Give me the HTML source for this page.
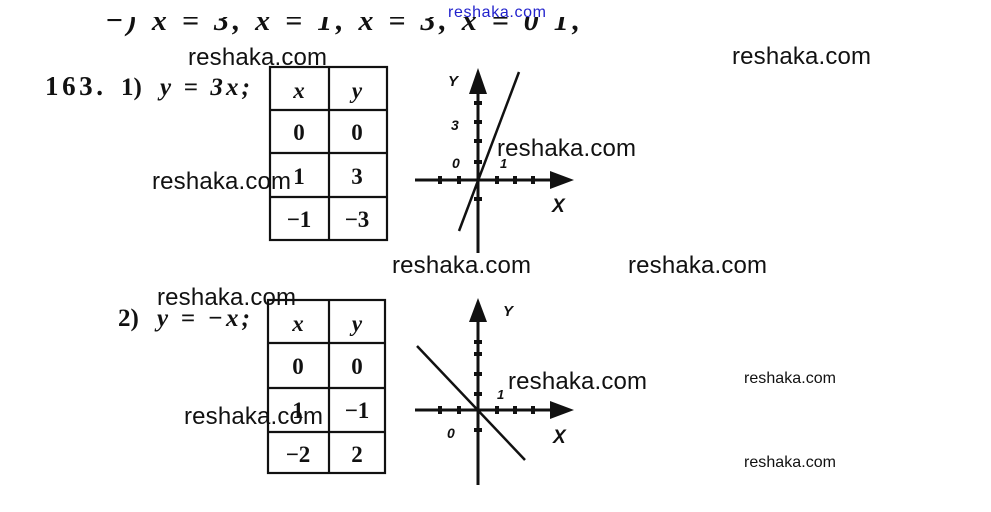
<!DOCTYPE html>
<html><head><meta charset="utf-8"><style>
html,body{margin:0;padding:0;background:#fff;}
svg{display:block;}
.wm{font-family:"Liberation Sans",sans-serif;font-size:24px;fill:#111;}
.sm{font-family:"Liberation Sans",sans-serif;font-size:16px;fill:#111;}
.ser{font-family:"Liberation Serif",serif;font-weight:bold;fill:#111;}
.it{font-family:"Liberation Serif",serif;font-style:italic;font-weight:bold;fill:#111;}
.ax{font-family:"Liberation Sans",sans-serif;font-style:italic;font-weight:bold;fill:#111;}
</style></head><body>
<svg width="991" height="512" viewBox="0 0 991 512" xmlns="http://www.w3.org/2000/svg">
<rect width="991" height="512" fill="#fff"/>
<!-- cut top line -->
<text x="105" y="30" class="it" font-size="30" textLength="475" lengthAdjust="spacing">−)  x = 3,   x = 1,   x = 3,   x = 0 1,</text>
<rect x="0" y="0" width="991" height="17" fill="#fff"/>
<text x="448" y="17" font-family="Liberation Sans,sans-serif" font-size="16" fill="#2222cc" textLength="98">reshaka.com</text>

<!-- 163 -->
<text x="45" y="95" class="ser" font-size="27" textLength="58">163.</text>
<text x="121" y="95" class="ser" font-size="25">1)</text>
<text x="160" y="95" class="it" font-size="25" textLength="90">y = 3x;</text>

<!-- table 1 -->
<g stroke="#111" stroke-width="2.2" fill="none">
<rect x="270" y="67" width="117" height="173"/>
<line x1="329" y1="67" x2="329" y2="240"/>
<line x1="270" y1="110" x2="387" y2="110"/>
<line x1="270" y1="153" x2="387" y2="153"/>
<line x1="270" y1="197" x2="387" y2="197"/>
</g>
<g class="ser" font-size="23" text-anchor="middle">
<text x="299" y="98" class="it">x</text><text x="357" y="98" class="it">y</text>
<text x="299" y="140">0</text><text x="357" y="140">0</text>
<text x="299" y="184">1</text><text x="357" y="184">3</text>
<text x="299" y="227">−1</text><text x="357" y="227">−3</text>
</g>

<!-- graph 1 -->
<g stroke="#111" stroke-width="3" fill="none">
<line x1="478" y1="88" x2="478" y2="253"/>
<line x1="415" y1="180" x2="555" y2="180"/>
<line x1="459" y1="231" x2="519" y2="72" stroke-width="2.5"/>
</g>
<polygon points="478,68 469,94 487,94" fill="#111"/>
<polygon points="574,180 550,171 550,189" fill="#111"/>
<g fill="#111">
<rect x="438" y="176" width="4" height="8"/><rect x="457" y="176" width="4" height="8"/>
<rect x="495" y="176" width="4" height="8"/><rect x="513" y="176" width="4" height="8"/><rect x="531" y="176" width="4" height="8"/>
<rect x="474" y="101" width="8" height="4"/><rect x="474" y="120" width="8" height="4"/><rect x="474" y="139" width="8" height="4"/><rect x="474" y="160" width="8" height="4"/><rect x="474" y="197" width="8" height="4"/>
</g>
<text x="448" y="86" class="ax" font-size="15">Y</text>
<text x="451" y="130" class="ax" font-size="14">3</text>
<text x="452" y="168" class="ax" font-size="14">0</text>
<text x="500" y="168" class="ax" font-size="13">1</text>
<text x="552" y="212" class="ax" font-size="19">X</text>

<!-- 2) -->
<text x="118" y="326" class="ser" font-size="25">2)</text>
<text x="157" y="326" class="it" font-size="25" textLength="93">y = −x;</text>

<!-- table 2 -->
<g stroke="#111" stroke-width="2.2" fill="none">
<rect x="268" y="300" width="117" height="173"/>
<line x1="329" y1="300" x2="329" y2="473"/>
<line x1="268" y1="343" x2="385" y2="343"/>
<line x1="268" y1="388" x2="385" y2="388"/>
<line x1="268" y1="432" x2="385" y2="432"/>
</g>
<g class="ser" font-size="23" text-anchor="middle">
<text x="298" y="331" class="it">x</text><text x="357" y="331" class="it">y</text>
<text x="298" y="374">0</text><text x="357" y="374">0</text>
<text x="298" y="418">1</text><text x="357" y="418">−1</text>
<text x="298" y="462">−2</text><text x="357" y="462">2</text>
</g>

<!-- graph 2 -->
<g stroke="#111" stroke-width="3" fill="none">
<line x1="478" y1="318" x2="478" y2="485"/>
<line x1="415" y1="410" x2="555" y2="410"/>
<line x1="417" y1="346" x2="525" y2="460" stroke-width="2.5"/>
</g>
<polygon points="478,298 469,322 487,322" fill="#111"/>
<polygon points="574,410 550,401 550,419" fill="#111"/>
<g fill="#111">
<rect x="438" y="406" width="4" height="8"/><rect x="457" y="406" width="4" height="8"/>
<rect x="495" y="406" width="4" height="8"/><rect x="513" y="406" width="4" height="8"/><rect x="531" y="406" width="4" height="8"/>
<rect x="474" y="340" width="8" height="4"/><rect x="474" y="352" width="8" height="4"/><rect x="474" y="372" width="8" height="4"/><rect x="474" y="392" width="8" height="4"/><rect x="474" y="428" width="8" height="4"/>
</g>
<text x="503" y="316" class="ax" font-size="15">Y</text>
<text x="497" y="399" class="ax" font-size="13">1</text>
<text x="447" y="438" class="ax" font-size="14">0</text>
<text x="553" y="443" class="ax" font-size="19">X</text>

<!-- watermarks -->
<text x="188" y="65" class="wm" textLength="139">reshaka.com</text>
<text x="732" y="64" class="wm" textLength="139">reshaka.com</text>
<text x="497" y="156" class="wm" textLength="139">reshaka.com</text>
<text x="152" y="189" class="wm" textLength="139">reshaka.com</text>
<text x="392" y="273" class="wm" textLength="139">reshaka.com</text>
<text x="628" y="273" class="wm" textLength="139">reshaka.com</text>
<text x="157" y="305" class="wm" textLength="139">reshaka.com</text>
<text x="508" y="389" class="wm" textLength="139">reshaka.com</text>
<text x="184" y="424" class="wm" textLength="139">reshaka.com</text>
<text x="744" y="383" class="sm" textLength="92">reshaka.com</text>
<text x="744" y="467" class="sm" textLength="92">reshaka.com</text>
</svg>
</body></html>
